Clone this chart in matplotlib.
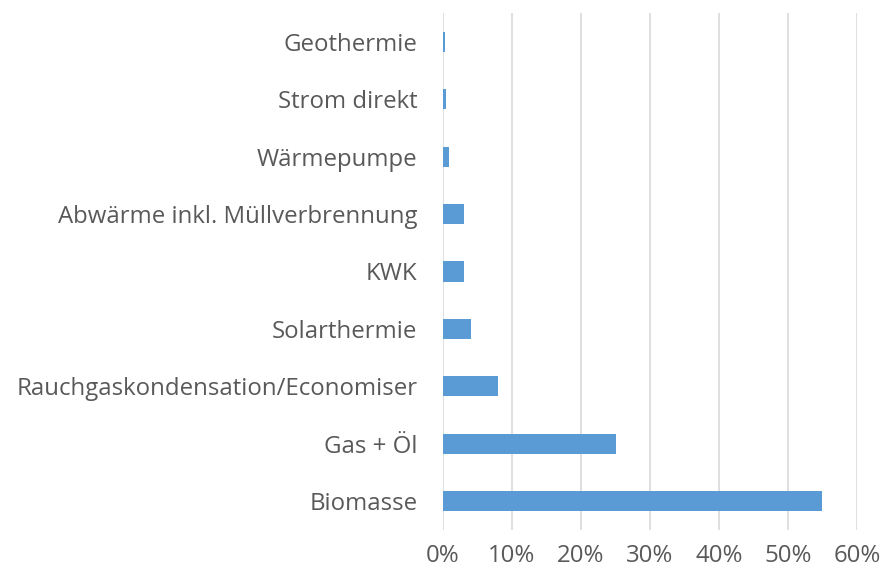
import matplotlib
matplotlib.use('Agg')
import matplotlib.pyplot as plt
from matplotlib.ticker import PercentFormatter

categories = ['Biomasse', 'Gas + Öl', 'Rauchgaskondensation/Economiser', 'Solarthermie',
              'KWK', 'Abwärme inkl. Müllverbrennung', 'Wärmepumpe', 'Strom direkt', 'Geothermie']
shares = [55, 25, 8, 4, 3, 3, 0.9, 0.5, 0.25]
xticks = [0, 10, 20, 30, 40, 50, 60]

plt.rcParams['font.family'] = ['Open Sans', 'DejaVu Sans']

fig = plt.figure(figsize=(8.83, 5.76), dpi=100)
ax = fig.add_axes([443 / 883, 1 - 529.7 / 576, (857 - 443) / 883, (529.7 - 13.3) / 576])

ax.barh(range(len(categories)), shares, height=0.35, color='#5B9BD5', zorder=3)

ax.set_xlim(0, 60)
ax.set_ylim(-0.5, len(categories) - 0.5)
ax.set_xticks(xticks)
ax.xaxis.set_major_formatter(PercentFormatter(decimals=0))
ax.set_yticks(range(len(categories)))
ax.set_yticklabels(categories)

ax.grid(axis='x', color='#D9D9D9', linewidth=1.2, zorder=0)
for s in ax.spines.values():
    s.set_visible(False)
ax.tick_params(axis='both', length=0, labelsize=17.3, labelcolor='#595959')
ax.tick_params(axis='x', pad=10)
ax.tick_params(axis='y', pad=18.5)

fig.savefig('out.png', dpi=100)
